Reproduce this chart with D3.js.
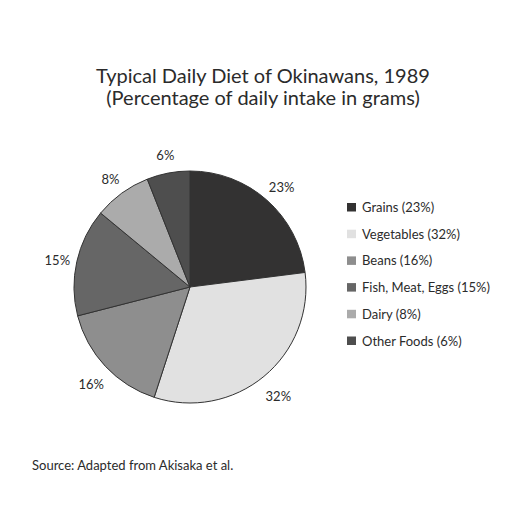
<!DOCTYPE html>
<html>
<head>
<meta charset="utf-8">
<script src="https://cdn.jsdelivr.net/npm/d3@7"></script>
<style>
    body { margin: 0; background: #fff; }
    svg text { font-family: Lato, "Noto Sans", sans-serif; fill: #2b2b2b; }
</style>
</head>
<body>
<div class="wrapper-svg"></div>
<script>
var categories = ['Grains', 'Vegetables', 'Beans', 'Fish, Meat, Eggs', 'Dairy', 'Other Foods'];
var values = [23, 32, 16, 15, 8, 6];
var sliceColors = ['#333232', '#e1e1e1', '#8e8e8e', '#666666', '#ababab', '#4e4e4e'];
var titleLines = ['Typical Daily Diet of Okinawans, 1989', '(Percentage of daily intake in grams)'];
var sourceText = 'Source: Adapted from Akisaka et al.';

var svg = d3.select('.wrapper-svg')
    .append('svg')
    .attr('width', 527)
    .attr('height', 525);

svg.append('rect')
    .attr('width', 527)
    .attr('height', 525)
    .attr('fill', '#fff');

// title
titleLines.forEach(function(t, i) {
    svg.append('text')
        .text(t)
        .attr('x', 263)
        .attr('y', 83 + i * 22.3)
        .attr('text-anchor', 'middle')
        .style('font-size', '20px');
});

var data = categories.map(function(c, i) { return {name: c, value: values[i], color: sliceColors[i]}; });

var pie = d3.pie().sort(null).value(function(d) { return d.value; });
var arc = d3.arc().innerRadius(0).outerRadius(116);
var labelArc = d3.arc().innerRadius(137).outerRadius(137);

var g = svg.append('g').attr('transform', 'translate(190,287)');

var arcs = pie(data);

g.selectAll('path')
    .data(arcs)
    .enter()
    .append('path')
    .attr('d', arc)
    .attr('fill', function(d) { return d.data.color; })
    .attr('stroke', '#333')
    .attr('stroke-width', 1);

// percent labels, a bit under the centroid like the original
g.selectAll('text.pct')
    .data(arcs)
    .enter()
    .append('text')
    .classed('pct', true)
    .text(function(d) { return d.data.value + '%'; })
    .attr('x', function(d) { return labelArc.centroid(d)[0] + 1; })
    .attr('y', function(d) { return labelArc.centroid(d)[1] + 8; })
    .attr('text-anchor', 'middle')
    .style('font-size', '13px');

// legend
var legend = svg.append('g').attr('transform', 'translate(347,203)');

var rows = legend.selectAll('g')
    .data(data)
    .enter()
    .append('g')
    .attr('transform', function(d, i) { return 'translate(0,' + (i * 26.7) + ')'; });

rows.append('rect')
    .attr('width', 9)
    .attr('height', 8.5)
    .attr('fill', function(d) { return d.color; });

rows.append('text')
    .text(function(d) { return d.name + ' (' + d.value + '%)'; })
    .attr('x', 15)
    .attr('y', 9)
    .style('font-size', '13px');

svg.append('text')
    .text(sourceText)
    .attr('x', 32)
    .attr('y', 470)
    .style('font-size', '13px');
</script>
</body>
</html>
